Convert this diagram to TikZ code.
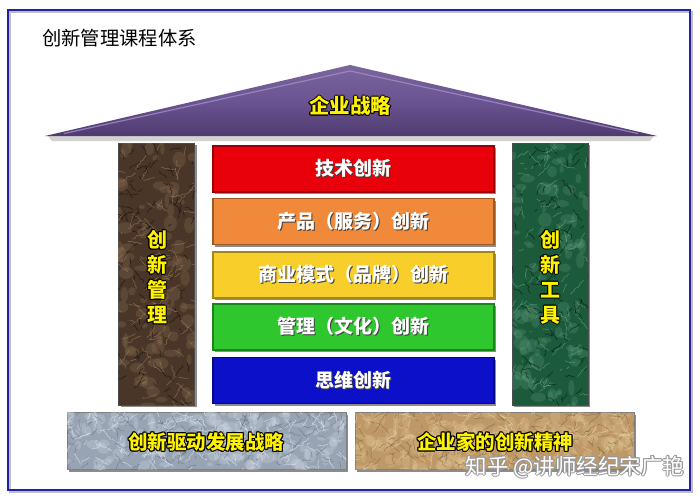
\documentclass[tikz,border=0pt]{standalone}
\usepackage{fontspec}
\setmainfont{Noto Sans CJK SC}
\usetikzlibrary{shadows,decorations.pathmorphing}
\definecolor{framec}{HTML}{2222A8}
\definecolor{roofc}{HTML}{6B5492}
\definecolor{roofd}{HTML}{4F3B70}
\definecolor{roofl}{HTML}{A08FC6}
\definecolor{redc}{HTML}{E8000A}
\definecolor{orac}{HTML}{F08A3A}
\definecolor{yelc}{HTML}{F8CE2A}
\definecolor{grnc}{HTML}{2EC82E}
\definecolor{bluc}{HTML}{0C10C8}
\definecolor{brownc}{HTML}{4A3628}
\definecolor{brownl}{HTML}{A08060}
\definecolor{greenc}{HTML}{1C5A3C}
\definecolor{greenl}{HTML}{6AA888}
\definecolor{greyc}{HTML}{98A4B4}
\definecolor{greyl}{HTML}{E4ECF4}
\definecolor{greyd}{HTML}{5A6474}
\definecolor{tanc}{HTML}{BE9866}
\definecolor{tanl}{HTML}{EAD2A4}
\definecolor{tand}{HTML}{7A5A38}
\definecolor{txtyel}{HTML}{FFF200}
\newcommand\olt[3]{\leavevmode\rlap{\color{#1}\kern-1pt#3}\rlap{\color{#1}\kern1pt#3}\rlap{\color{#1}\raisebox{1pt}{#3}}\rlap{\color{#1}\raisebox{-1pt}{#3}}\rlap{\color{#1}\kern0.7pt\raisebox{0.7pt}{#3}}\rlap{\color{#1}\kern-0.7pt\raisebox{-0.7pt}{#3}}\rlap{\color{#1}\kern0.7pt\raisebox{-0.7pt}{#3}}\rlap{\color{#1}\kern-0.7pt\raisebox{0.7pt}{#3}}{\color{#2}#3}}
\newcommand\yel[1]{\olt{black}{txtyel}{#1}}
\newcommand\sht[1]{\leavevmode\rlap{\color{black!75}\kern1.3pt\raisebox{-1.3pt}{#1}}{\color{white}#1}}
\newcommand\texture[8]{%
  \begin{scope}
    \clip (#1,#2) rectangle ++(#3,#4);
    \pgfmathsetseed{#5}
    \foreach \i in {1,...,#8}{
      \pgfmathsetmacro\xe{#1+#3*rnd}
      \pgfmathsetmacro\ye{#2+#4*rnd}
      \pgfmathsetmacro\ra{2+6*rnd}
      \pgfmathsetmacro\rb{2+6*rnd}
      \fill[#6, opacity=.22] (\xe,\ye) ellipse (\ra pt and \rb pt);
    }
    \foreach \i in {1,...,#8}{
      \pgfmathsetmacro\xa{#1+#3*rnd}
      \pgfmathsetmacro\ya{#2+#4*rnd}
      \pgfmathsetmacro\xb{\xa+30*rnd-15}
      \pgfmathsetmacro\yb{\ya+30*rnd-15}
      \pgfmathsetmacro\xc{#1+#3*rnd}
      \pgfmathsetmacro\yc{#2+#4*rnd}
      \pgfmathsetmacro\xd{\xc+24*rnd-12}
      \pgfmathsetmacro\yd{\yc+24*rnd-12}
      \draw[#6, line width=0.6pt, opacity=.6, decorate, decoration={random steps, segment length=2.5pt, amplitude=1.2pt}] (\xa,\ya) -- (\xb,\yb);
      \draw[#7, line width=0.6pt, opacity=.5, decorate, decoration={random steps, segment length=2.5pt, amplitude=1.2pt}] (\xc,\yc) -- (\xd,\yd);
    }
  \end{scope}}
\tikzset{
  bar/.style={draw=#1!65!black, line width=1.3pt, fill=#1, minimum width=281pt, minimum height=46pt, inner sep=0pt,
     drop shadow={shadow xshift=2pt, shadow yshift=-2pt, opacity=.45, fill=black},
     font=\fontsize{19}{22}\selectfont\bfseries},
  pillar/.style={draw=black!70, line width=1pt, minimum width=76pt, minimum height=262pt, inner sep=0pt,
     drop shadow={shadow xshift=2pt, shadow yshift=-2pt, opacity=.45, fill=black}},
  stone/.style={draw=black!50, line width=0.8pt, minimum width=279pt, minimum height=57pt, inner sep=0pt,
     drop shadow={shadow xshift=2pt, shadow yshift=-2pt, opacity=.45, fill=black}},
  lbl/.style={inner sep=0pt, font=\fontsize{20}{25}\selectfont\bfseries, align=center},
}
\begin{document}
\begin{tikzpicture}[x=1pt,y=-1pt]
\useasboundingbox (0,0) rectangle (700,500);
\fill[white] (0,0) rectangle (700,500);
% frame
\draw[black!25, line width=2pt] (10,12) rectangle (692,492);
\draw[framec, line width=2pt] (8,10) rectangle (690,490);
\node[anchor=west, inner sep=0pt, font=\fontsize{19.3}{22}\selectfont] (title) at (42,38) {创新管理课程体系};
% roof
\fill[black!35, opacity=.5] (48,136) -- (654,136) -- (650,141) -- (52,141) -- cycle;
\shade[top color=roofc!90!white, bottom color=roofd, middle color=roofc] (45,136) -- (350,65) -- (657,136) -- cycle;
\draw[roofl, line width=1.2pt, opacity=.8] (64,133.5) -- (350,71) -- (638,133.5);
\node[lbl, font=\fontsize{20.5}{25}\selectfont\bfseries] (roof) at (350,106) {\yel{企业战略}};
% pillars
\node[pillar, fill=brownc] (lp) at (156.5,274) {};
\texture{118}{143}{77}{262}{3}{brownl}{black}{90}
\node[lbl] (lpt) at (157,277) {\yel{创}\\\yel{新}\\\yel{管}\\\yel{理}};
\node[pillar, fill=greenc] (rp) at (550,274) {};
\texture{512}{143}{76}{262}{7}{greenl}{black}{90}
\node[lbl] (rpt) at (550,277) {\yel{创}\\\yel{新}\\\yel{工}\\\yel{具}};
% bars
\node[bar=redc] (b1) at (353.5,169) {\sht{技术创新}};
\node[bar=orac] (b2) at (353.5,221.5) {\sht{产品（服务）创新}};
\node[bar=yelc] (b3) at (353.5,275) {\sht{商业模式（品牌）创新}};
\node[bar=grnc] (b4) at (353.5,327) {\sht{管理（文化）创新}};
\node[bar=bluc] (b5) at (353.5,380.5) {\sht{思维创新}};
% stones
\node[stone, fill=greyc] (s1) at (206.5,441) {};
\texture{67}{412}{279}{57}{11}{greyl}{greyd}{140}
\node[lbl, font=\fontsize{19.5}{22}\selectfont\bfseries] (s1t) at (206,442) {\yel{创新驱动发展战略}};
\node[stone, fill=tanc] (s2) at (494.5,441) {};
\texture{355}{412}{279}{57}{5}{tanl}{tand}{140}
\node[lbl, font=\fontsize{19.5}{22}\selectfont\bfseries] (s2t) at (495,442) {\yel{企业家的创新精神}};
% watermark
\node[inner sep=0pt, font=\fontsize{21.5}{24}\selectfont] (wm) at (575,467) {\olt{black!40}{white}{知乎 @讲师经纪宋广艳}};
\end{tikzpicture}
\end{document}
